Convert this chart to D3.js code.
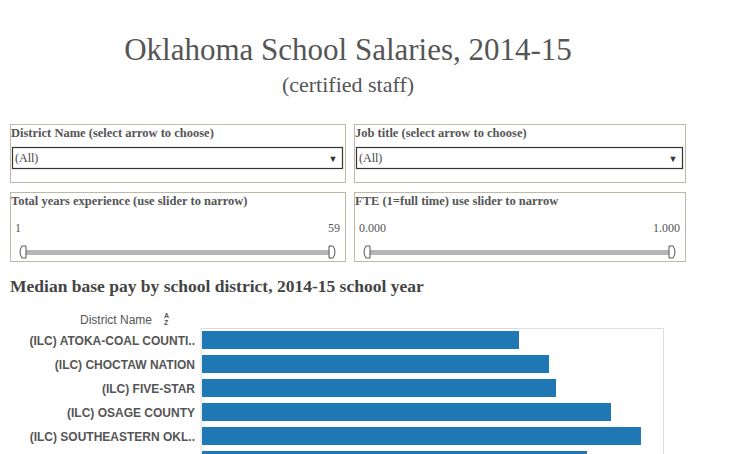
<!DOCTYPE html>
<html><head><meta charset="utf-8">
<script src="https://cdn.jsdelivr.net/npm/d3@7"></script>
<style>body{margin:0;background:#fff}</style>
</head><body><svg id="c"></svg>
<script>
const districts = ["(ILC) ATOKA-COAL COUNTI..", "(ILC) CHOCTAW NATION", "(ILC) FIVE-STAR", "(ILC) OSAGE COUNTY", "(ILC) SOUTHEASTERN OKL..", "(ILC) TRI-COUNTY"];
const medianPay = [34380, 37640, 38400, 44360, 47610, 41760];

const svg = d3.select("#c").attr("width", 736).attr("height", 454);
const serif = "'Liberation Serif','DejaVu Serif',serif";
const sans = "'Liberation Sans',Arial,sans-serif";

svg.append("text").attr("x", 348).attr("y", 60).attr("text-anchor", "middle")
  .style("font-family", serif).style("font-size", "31px").attr("fill", "#555").text("Oklahoma School Salaries, 2014-15");
svg.append("text").attr("x", 348).attr("y", 92).attr("text-anchor", "middle")
  .style("font-family", serif).style("font-size", "22px").attr("fill", "#555").text("(certified staff)");

// filter boxes
const filters = [
  {x: 10, y: 124, w: 335, h: 58, label: "District Name (select arrow to choose)", type: "drop"},
  {x: 354, y: 124, w: 331, h: 58, label: "Job title (select arrow to choose)", type: "drop"},
  {x: 10, y: 192, w: 335, h: 69, label: "Total years experience (use slider to narrow)", type: "slide", lo: "1", hi: "59"},
  {x: 354, y: 192, w: 331, h: 69, label: "FTE (1=full time) use slider to narrow", type: "slide", lo: "0.000", hi: "1.000"}
];
filters.forEach(f => {
  const g = svg.append("g").attr("transform", `translate(${f.x},${f.y})`);
  g.append("rect").attr("x", 0.5).attr("y", 0.5).attr("width", f.w).attr("height", f.h).attr("fill", "none").attr("stroke", "#bdb9a8");
  g.append("text").attr("x", 1).attr("y", 13).style("font-family", serif).style("font-size", "12.5px").style("font-weight", "bold").attr("fill", "#555").text(f.label);
  if (f.type === "drop") {
    g.append("rect").attr("x", 2.5).attr("y", 23.5).attr("width", f.w - 5).attr("height", 21).attr("fill", "#fff").attr("stroke", "#333").attr("stroke-width", 1.2);
    g.append("text").attr("x", 5).attr("y", 38).style("font-family", serif).style("font-size", "12px").attr("fill", "#444").text("(All)");
    g.append("text").attr("x", f.w - 12).attr("y", 38).attr("text-anchor", "middle").style("font-size", "9px").attr("fill", "#333").text("▼");
  } else {
    g.append("text").attr("x", 5).attr("y", 40).style("font-family", serif).style("font-size", "12px").attr("fill", "#555").text(f.lo);
    g.append("text").attr("x", f.w - 5).attr("y", 40).attr("text-anchor", "end").style("font-family", serif).style("font-size", "12px").attr("fill", "#555").text(f.hi);
    g.append("rect").attr("x", 14).attr("y", 58).attr("width", f.w - 28).attr("height", 5).attr("fill", "#b5b5b5");
    g.append("path").attr("d", `M16,54 h-4 q-4,6 0,12 h4 z`).attr("fill", "#fff").attr("stroke", "#555");
    g.append("path").attr("d", `M${f.w - 16},54 h4 q4,6 0,12 h-4 z`).attr("fill", "#fff").attr("stroke", "#555");
  }
});

svg.append("text").attr("x", 10).attr("y", 292).style("font-family", serif).style("font-size", "17.5px").style("font-weight", "bold").attr("fill", "#444")
  .text("Median base pay by school district, 2014-15 school year");

svg.append("text").attr("x", 80).attr("y", 324).style("font-family", sans).style("font-size", "12px").attr("fill", "#555").text("District Name");
svg.append("text").attr("x", 164).attr("y", 318).style("font-family", sans).style("font-size", "7px").style("font-weight", "bold").attr("fill", "#555").text("A");
svg.append("text").attr("x", 164).attr("y", 325).style("font-family", sans).style("font-size", "7px").style("font-weight", "bold").attr("fill", "#555").text("Z");

const plotLeft = 202, plotRight = 663, plotTop = 328;
const x = d3.scaleLinear().domain([0, 50000]).range([plotLeft, plotRight]);
const y = d3.scaleBand().domain(districts).range([plotTop, plotTop + 24 * districts.length]).paddingInner(0.25).paddingOuter(0.125);

svg.append("path").attr("d", `M${plotLeft - 1},454 V${plotTop + 0.5} H${plotRight + 0.5} V454`).attr("fill", "none").attr("stroke", "#ddd");

svg.selectAll(".bar").data(districts).enter().append("rect")
  .attr("x", plotLeft).attr("y", d => y(d)).attr("width", (d, i) => x(medianPay[i]) - plotLeft).attr("height", y.bandwidth())
  .attr("fill", "#1f77b4");

svg.selectAll(".lbl").data(districts).enter().append("text")
  .attr("x", 195).attr("y", d => y(d) + y.bandwidth() / 2 + 4.5).attr("text-anchor", "end")
  .style("font-family", sans).style("font-size", "12px").style("font-weight", "bold").attr("fill", "#555").text(d => d);
</script></body></html>
